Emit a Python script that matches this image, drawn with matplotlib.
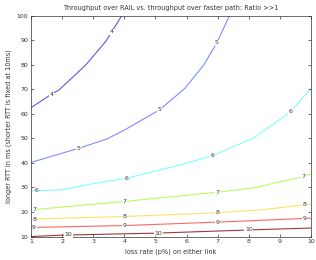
import numpy as np
import matplotlib
matplotlib.use("Agg")
import matplotlib.pyplot as plt

title = "Throughput over RAIL vs. throughput over faster path: Ratio >>1"
xlabel = "loss rate (p%) on either link"
ylabel = "longer RTT in ms (shorter RTT is fixed at 10ms)"

levels = [4, 5, 6, 7, 8, 9, 10]
x4 = [1.0, 1.66, 1.91, 2.77, 3.41, 3.92]
y4 = [62.5, 68.0, 69.8, 80.0, 89.6, 100.0]
x5 = [1.0, 2.52, 3.43, 4.02, 5.13, 5.95, 6.56, 6.98, 7.38]
y5 = [40.2, 45.9, 49.7, 53.5, 61.6, 70.4, 80.0, 89.0, 100.0]
x6 = [1.0, 1.93, 3.11, 4.08, 6.0, 6.84, 8.15, 9.35, 10.0]
y6 = [28.6, 29.0, 31.8, 33.8, 39.9, 43.0, 50.1, 60.9, 70.4]
x7 = [1.0, 4.0, 7.0, 8.1, 9.75, 10.0]
y7 = [20.9, 24.3, 28.1, 29.7, 34.4, 35.4]
x8 = [1.0, 4.0, 7.0, 8.5, 10.0]
y8 = [17.1, 18.2, 19.7, 21.0, 23.3]
x9 = [1.0, 4.0, 7.0, 10.0]
y9 = [13.7, 14.5, 15.9, 17.5]
x10 = [1.0, 2.0, 5.0, 8.0, 10.0]
y10 = [10.0, 10.6, 11.4, 12.7, 13.5]

xs = [x4, x5, x6, x7, x8, x9, x10]
ys = [y4, y5, y6, y7, y8, y9, y10]
label_x = [[1.66, 3.6], [2.52, 5.13, 6.98], [1.19, 4.08, 6.84, 9.35],
           [1.1, 4.0, 7.0, 9.75], [1.1, 4.0, 7.0, 9.8], [1.1, 4.0, 7.0, 9.8],
           [2.2, 5.1, 8.0]]
colors = ['#5a5ae8', '#7f8cff', '#80ffff', '#b8ff60', '#ffe066', '#ff6666', '#a03838']

fig = plt.figure(figsize=(3.16, 2.60), dpi=100)
ax = fig.add_axes([0.098, 0.09, 0.886, 0.85])
for lev, x, y, lx, c in zip(levels, xs, ys, label_x, colors):
    ax.plot(x, y, color=c, lw=0.8, zorder=1)
    for xx in lx:
        yy = np.interp(xx, x, y)
        ax.text(xx, yy, str(lev), fontsize=4.5, ha='center', va='center',
                color='#333333', zorder=3,
                bbox=dict(facecolor='white', edgecolor='none', pad=0.3))

ax.set_xlim(1, 10)
ax.set_ylim(10, 100)
ax.set_xticks(range(1, 11))
ax.set_yticks(range(10, 101, 10))
ax.tick_params(direction='in', length=2.5, width=0.5, labelsize=4.5,
               top=True, right=True, pad=2, colors='#333333')
for s in ax.spines.values():
    s.set_linewidth(0.5)
    s.set_color('#333333')
ax.set_title(title, fontsize=4.7, pad=4, color='#333333')
ax.set_xlabel(xlabel, fontsize=4.7, labelpad=3, color='#333333')
ax.set_ylabel(ylabel, fontsize=4.7, labelpad=3, color='#333333')
fig.savefig("out.png", dpi=100)
